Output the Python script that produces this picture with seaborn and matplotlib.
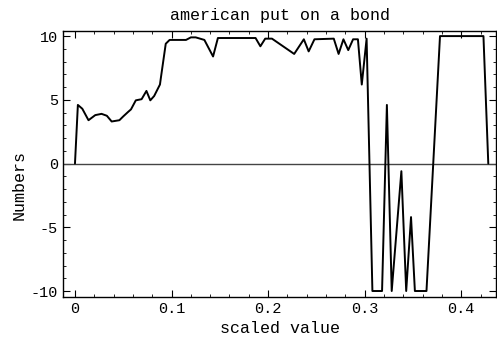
import matplotlib
matplotlib.use("Agg")
import matplotlib.pyplot as plt
import seaborn as sns
import pandas as pd
from matplotlib.ticker import MultipleLocator

sns.set_style("ticks")
plt.rcParams['font.family'] = ['Liberation Mono', 'DejaVu Sans Mono']
plt.rcParams['text.color'] = 'black'
plt.rcParams['axes.labelcolor'] = 'black'

title = "american put on a bond"
xlabel = "scaled value"
ylabel = "Numbers"

x_vals = [0.0, 0.003, 0.0076, 0.014, 0.021, 0.0275, 0.033, 0.038, 0.046, 0.05,
          0.055, 0.058, 0.063, 0.069, 0.074, 0.078, 0.082, 0.088, 0.089, 0.094,
          0.098, 0.115, 0.12, 0.125, 0.134, 0.143, 0.148, 0.17, 0.187, 0.192,
          0.197, 0.204, 0.227, 0.237, 0.242, 0.248, 0.268, 0.273, 0.278, 0.283,
          0.288, 0.293, 0.297, 0.302, 0.308, 0.318, 0.323, 0.328, 0.338, 0.343,
          0.348, 0.352, 0.364, 0.378, 0.423, 0.428]
y_vals = [0, 4.6, 4.3, 3.4, 3.8, 3.9, 3.75, 3.3, 3.4, 3.7,
          4.05, 4.25, 4.96, 5.05, 5.7, 4.96, 5.3, 6.2, 6.75, 9.4,
          9.7, 9.7, 9.9, 9.9, 9.7, 8.4, 9.85, 9.85, 9.85, 9.2,
          9.8, 9.8, 8.6, 9.75, 8.8, 9.75, 9.8, 8.6, 9.75, 8.9,
          9.75, 9.75, 6.2, 9.8, -10, -10, 4.6, -10, -0.6, -10,
          -4.2, -10, -10, 10, 10, 0]

df = pd.DataFrame({"x": x_vals, "y": y_vals})

fig = plt.figure(figsize=(4.97, 3.44), dpi=100)
ax = fig.add_axes([63/497, 1-297/344, 1-63/497 - 0.002, (297-31)/344])

ax.axhline(0, color="#444444", lw=1.0, zorder=1)
sns.lineplot(data=df, x="x", y="y", ax=ax, color="black", lw=1.4,
             estimator=None, sort=False, zorder=2)

ax.set_xlim(-0.0124, 0.436)
ax.set_ylim(-10.47, 10.4)
ax.xaxis.set_major_locator(MultipleLocator(0.1))
ax.xaxis.set_minor_locator(MultipleLocator(0.02))
ax.yaxis.set_major_locator(MultipleLocator(5))
ax.yaxis.set_minor_locator(MultipleLocator(1))
ax.set_xticks([0, 0.1, 0.2, 0.3, 0.4])
ax.set_xticklabels(["0", "0.1", "0.2", "0.3", "0.4"])
ax.set_yticks([-10, -5, 0, 5, 10])
ax.set_yticklabels(["-10", "-5", "0", "5", "10"])
ax.tick_params(which="both", direction="in", top=True, right=True,
               colors="black", labelsize=11, labelcolor="black")
ax.tick_params(which="major", length=5, width=0.8)
ax.tick_params(which="minor", length=2.5, width=0.6)
for s in ax.spines.values():
    s.set_linewidth(1.0)
    s.set_color("black")

ax.set_title(title, fontsize=12, pad=8, color="black")
ax.set_xlabel(xlabel, fontsize=12, labelpad=4, color="black")
ax.set_ylabel(ylabel, fontsize=12, color="black")
ax.yaxis.set_label_coords(-0.085, 0.42)

fig.savefig("out.png", dpi=100)
